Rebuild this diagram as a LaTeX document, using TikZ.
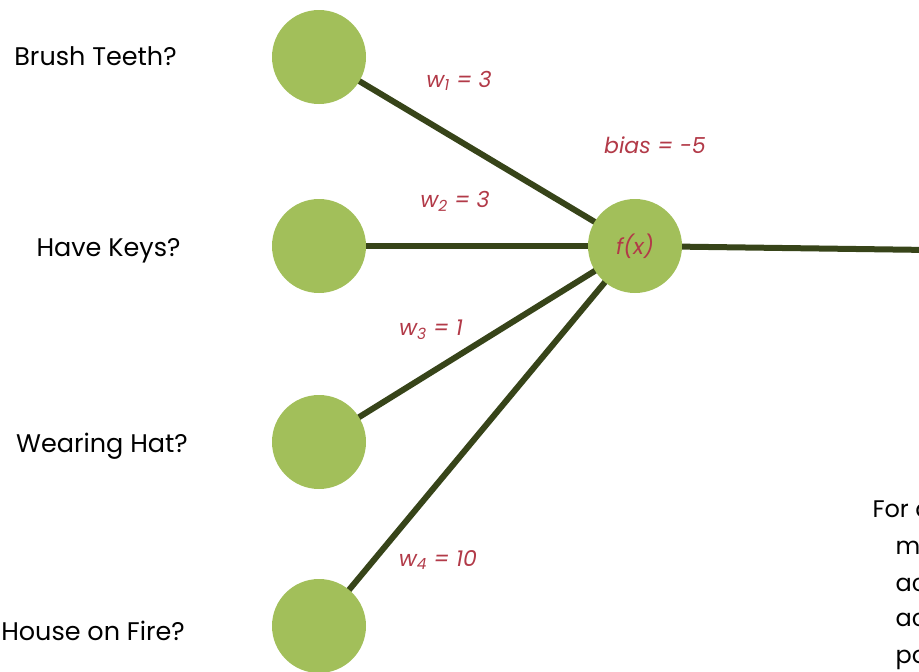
\documentclass[tikz,border=0pt]{standalone}
\usepackage{fontspec}
\setmainfont{Poppins}
\definecolor{nodegreen}{HTML}{A2BF5A}
\definecolor{edgeolive}{HTML}{374419}
\definecolor{labelred}{HTML}{B23A48}
\begin{document}
\begin{tikzpicture}[x=1pt,y=-1pt,
  neuron/.style={circle,fill=nodegreen,minimum size=94pt,inner sep=0pt},
  edge/.style={draw=edgeolive,line width=6pt},
  qlabel/.style={font=\fontsize{25.5}{30}\selectfont,text=black},
  wlabel/.style={font=\fontsize{22}{26}\selectfont\itshape,text=labelred},
  notetext/.style={font=\fontsize{24}{29}\selectfont,text=black,anchor=base west}]
\useasboundingbox (0,0) rectangle (919,672);
\clip (0,0) rectangle (919,672);

% connectors, drawn first so the circles sit on top
\coordinate (out) at (930,250);
\coordinate (c1) at (319,57);
\coordinate (c2) at (319,246);
\coordinate (c3) at (319,442);
\coordinate (c4) at (319,626);
\coordinate (cf) at (635,246);
\draw[edge] (c1) -- (cf);
\draw[edge] (c2) -- (cf);
\draw[edge] (c3) -- (cf);
\draw[edge] (c4) -- (cf);
\draw[edge] (cf) -- (out);

% neurons
\node[neuron] (in1) at (c1) {};
\node[neuron] (in2) at (c2) {};
\node[neuron] (in3) at (c3) {};
\node[neuron] (in4) at (c4) {};
\node[neuron,wlabel] (f) at (cf) {f(x)};

% input questions
\node[qlabel] (q1) at (95.5,56) {Brush Teeth?};
\node[qlabel] (q2) at (108.5,251) {Have Keys?};
\node[qlabel] (q3) at (102,446) {Wearing Hat?};
\node[qlabel] (q4) at (93,631) {House on Fire?};

% weights and bias
\node[wlabel] (w1) at (459,81) {w\textsubscript{1} = 3};
\node[wlabel] (w2) at (455,201) {w\textsubscript{2} = 3};
\node[wlabel] (w3) at (431,330) {w\textsubscript{3} = 1};
\node[wlabel] (w4) at (438,560) {w\textsubscript{4} = 10};
\node[wlabel] (bias) at (655,145) {bias = -5};

% explanatory note, running off the right edge
\node[notetext] (n1) at (869,517) {For\hspace{0.27em}a person to leave the house,};
\node[notetext] (n2) at (892,554) {must add up to more than zero};
\node[notetext] (n3) at (892,591) {across all the inputs, and};
\node[notetext] (n4) at (892,626) {activation must be};
\node[notetext] (n5) at (892,663) {positive};
\end{tikzpicture}
\end{document}
